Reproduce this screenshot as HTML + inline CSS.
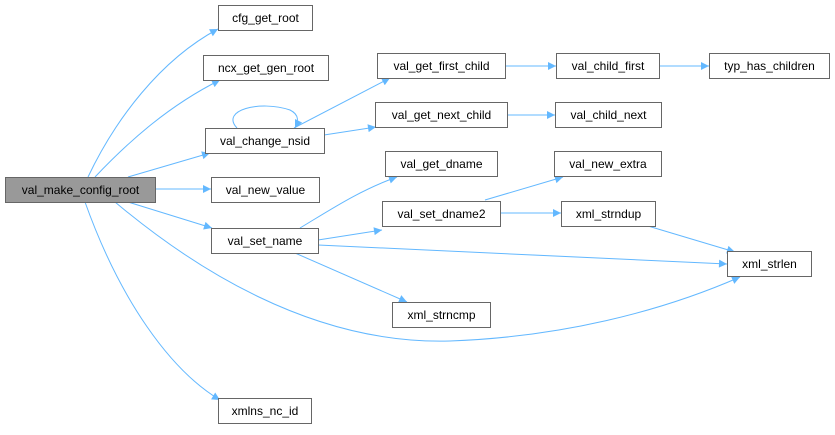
<!DOCTYPE html>
<html><head><meta charset="utf-8"><style>
body{margin:0;background:#fff;}
svg{display:block;font-family:"Liberation Sans",Arial,sans-serif;font-size:12px;}
</style></head><body>
<svg width="835" height="435" viewBox="0 0 835 435" xmlns="http://www.w3.org/2000/svg">
<defs><marker id="a" viewBox="0 0 10 10" refX="10" refY="5" markerWidth="10" markerHeight="8" markerUnits="userSpaceOnUse" orient="auto"><path d="M0,0L10,5L0,10z" fill="#63b8ff"/></marker></defs>
<g fill="none" stroke="#63b8ff" stroke-width="1" marker-end="url(#a)">
<path d="M88,177C115,120 160,60 218,29"/>
<path d="M95,177C130,140 170,105 220,80"/>
<path d="M128,177L210,153"/>
<path d="M155,189L211,189"/>
<path d="M128,202L212,228"/>
<path d="M115,202C190,265 310,345 450,341C560,337 660,312 740,277"/>
<path d="M85,202C120,300 170,370 220,400"/>
<path d="M237,128C220,110 260,100 290,110C300,115 298,122 295,128"/>
<path d="M294,128L390,78"/>
<path d="M324,135L376,127"/>
<path d="M505,66L556,66"/>
<path d="M659,66L709,66"/>
<path d="M507,115L555,115"/>
<path d="M300,228C330,210 360,190 397,177"/>
<path d="M318,240L382,230"/>
<path d="M318,245L727,264"/>
<path d="M295,253L407,302"/>
<path d="M485,200L563,177"/>
<path d="M500,213L561,213"/>
<path d="M648,226L735,252"/>
</g>
<g stroke="#666" stroke-width="1" fill="#fff">
<rect x="5.5" y="177.5" width="150" height="25" fill="#999"/>
<rect x="218.5" y="5.5" width="94" height="25"/>
<rect x="203.5" y="55.5" width="125" height="25"/>
<rect x="205.5" y="128.5" width="119" height="25"/>
<rect x="211.5" y="177.5" width="108" height="25"/>
<rect x="211.5" y="228.5" width="107" height="25"/>
<rect x="218.5" y="398.5" width="93" height="25"/>
<rect x="377.5" y="53.5" width="128" height="25"/>
<rect x="375.5" y="102.5" width="132" height="25"/>
<rect x="385.5" y="151.5" width="112" height="25"/>
<rect x="382.5" y="201.5" width="118" height="25"/>
<rect x="392.5" y="302.5" width="98" height="25"/>
<rect x="556.5" y="53.5" width="103" height="25"/>
<rect x="555.5" y="102.5" width="106" height="25"/>
<rect x="554.5" y="151.5" width="107" height="25"/>
<rect x="561.5" y="201.5" width="94" height="25"/>
<rect x="709.5" y="53.5" width="120" height="25"/>
<rect x="727.5" y="251.5" width="84" height="25"/>
</g>
<g fill="#000" text-anchor="middle">
<text x="80.5" y="194">val_make_config_root</text>
<text x="265.5" y="22">cfg_get_root</text>
<text x="266" y="72">ncx_get_gen_root</text>
<text x="265" y="145">val_change_nsid</text>
<text x="265.5" y="194">val_new_value</text>
<text x="265" y="245">val_set_name</text>
<text x="265" y="415">xmlns_nc_id</text>
<text x="441.5" y="70">val_get_first_child</text>
<text x="441.5" y="119">val_get_next_child</text>
<text x="441.5" y="168">val_get_dname</text>
<text x="441.5" y="218">val_set_dname2</text>
<text x="441.5" y="319">xml_strncmp</text>
<text x="608" y="70">val_child_first</text>
<text x="608.5" y="119">val_child_next</text>
<text x="608" y="168">val_new_extra</text>
<text x="608.5" y="218">xml_strndup</text>
<text x="769.5" y="70">typ_has_children</text>
<text x="769.5" y="268">xml_strlen</text>
</g>
</svg>
</body></html>
